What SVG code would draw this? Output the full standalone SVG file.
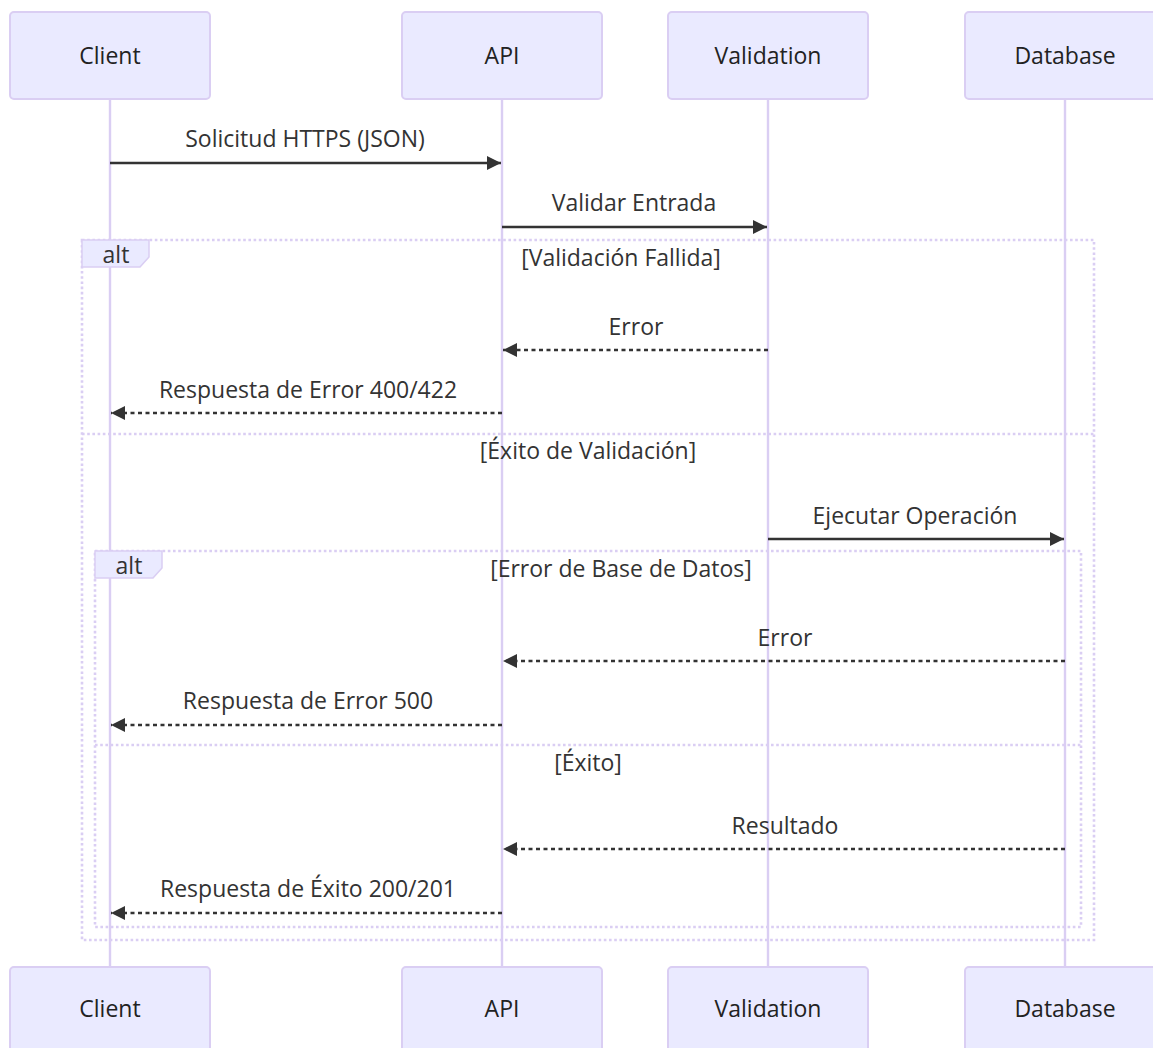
<svg xmlns="http://www.w3.org/2000/svg" width="1153" height="1048" viewBox="0 0 1153 1048">
<style>
.actor{fill:#eaeaff;stroke:#dacef3;stroke-width:2}
.atext{font-family:"Open Sans","DejaVu Sans",sans-serif;font-size:23px;fill:#222;text-anchor:middle;dominant-baseline:central}
.life{stroke:#dacef3;stroke-width:2.4}
.msg{stroke:#333;stroke-width:2.6;fill:none}
.dash{stroke-dasharray:4,3.5}
.mtext{font-family:"Open Sans","DejaVu Sans",sans-serif;font-size:23px;fill:#333;text-anchor:middle;dominant-baseline:central}
.loop{fill:none;stroke:#dacef3;stroke-width:2.6;stroke-dasharray:2.6,2.6}
.lbox{fill:#eaeaff;stroke:#dacef3;stroke-width:1.5}
.ltext{font-family:"Open Sans","DejaVu Sans",sans-serif;font-size:23px;fill:#333;text-anchor:middle;dominant-baseline:central}
</style>
<defs>
<marker id="ah" markerUnits="userSpaceOnUse" markerWidth="15" markerHeight="14" refX="14" refY="7" orient="auto">
<path d="M0,0 L14,7 L0,14 z" fill="#333"/>
</marker>
</defs>
<rect width="1153" height="1048" fill="#fff"/>
<g id="lifelines">
<line class="life" x1="110" y1="99" x2="110" y2="967"/>
<line class="life" x1="502" y1="99" x2="502" y2="967"/>
<line class="life" x1="768" y1="99" x2="768" y2="967"/>
<line class="life" x1="1065" y1="99" x2="1065" y2="967"/>
</g>
<g id="actor-client-top"><rect class="actor" x="10" y="12" width="200" height="87" rx="4"/><text class="atext" x="110" y="55">Client</text></g>
<g id="actor-api-top"><rect class="actor" x="402" y="12" width="200" height="87" rx="4"/><text class="atext" x="502" y="55">API</text></g>
<g id="actor-validation-top"><rect class="actor" x="668" y="12" width="200" height="87" rx="4"/><text class="atext" x="768" y="55">Validation</text></g>
<g id="actor-database-top"><rect class="actor" x="965" y="12" width="200" height="87" rx="4"/><text class="atext" x="1065" y="55">Database</text></g>
<g id="actor-client-bottom"><rect class="actor" x="10" y="967" width="200" height="87" rx="4"/><text class="atext" x="110" y="1008">Client</text></g>
<g id="actor-api-bottom"><rect class="actor" x="402" y="967" width="200" height="87" rx="4"/><text class="atext" x="502" y="1008">API</text></g>
<g id="actor-validation-bottom"><rect class="actor" x="668" y="967" width="200" height="87" rx="4"/><text class="atext" x="768" y="1008">Validation</text></g>
<g id="actor-database-bottom"><rect class="actor" x="965" y="967" width="200" height="87" rx="4"/><text class="atext" x="1065" y="1008">Database</text></g>
<g id="alt-outer">
<rect class="loop" x="82" y="240" width="1012" height="700"/>
<line class="loop" x1="82" y1="434" x2="1094" y2="434"/>
<polygon class="lbox" points="82,240 149,240 149,257 140,267 82,267"/>
<text class="ltext" x="116" y="254">alt</text>
<text class="ltext" x="621" y="257">[Validación Fallida]</text>
<text class="ltext" x="588" y="450">[Éxito de Validación]</text>
</g>
<g id="alt-inner">
<rect class="loop" x="95" y="551" width="986" height="376"/>
<line class="loop" x1="95" y1="745" x2="1081" y2="745"/>
<polygon class="lbox" points="95,551 162,551 162,568 153,578 95,578"/>
<text class="ltext" x="129" y="565">alt</text>
<text class="ltext" x="621" y="568">[Error de Base de Datos]</text>
<text class="ltext" x="588" y="762">[Éxito]</text>
</g>
<g id="connectors">
<line class="msg" x1="110" y1="163" x2="501" y2="163" marker-end="url(#ah)"/>
<text class="mtext" x="305" y="138">Solicitud HTTPS (JSON)</text>
<line class="msg" x1="502" y1="227" x2="767" y2="227" marker-end="url(#ah)"/>
<text class="mtext" x="634" y="202">Validar Entrada</text>
<line class="msg dash" x1="768" y1="350" x2="503" y2="350" marker-end="url(#ah)"/>
<text class="mtext" x="636" y="326">Error</text>
<line class="msg dash" x1="502" y1="413" x2="111" y2="413" marker-end="url(#ah)"/>
<text class="mtext" x="308" y="389">Respuesta de Error 400/422</text>
<line class="msg" x1="768" y1="539" x2="1064" y2="539" marker-end="url(#ah)"/>
<text class="mtext" x="915" y="515">Ejecutar Operación</text>
<line class="msg dash" x1="1065" y1="661" x2="503" y2="661" marker-end="url(#ah)"/>
<text class="mtext" x="785" y="637">Error</text>
<line class="msg dash" x1="502" y1="725" x2="111" y2="725" marker-end="url(#ah)"/>
<text class="mtext" x="308" y="700">Respuesta de Error 500</text>
<line class="msg dash" x1="1065" y1="849" x2="503" y2="849" marker-end="url(#ah)"/>
<text class="mtext" x="785" y="825">Resultado</text>
<line class="msg dash" x1="502" y1="913" x2="111" y2="913" marker-end="url(#ah)"/>
<text class="mtext" x="308" y="888">Respuesta de Éxito 200/201</text>
</g>
</svg>
